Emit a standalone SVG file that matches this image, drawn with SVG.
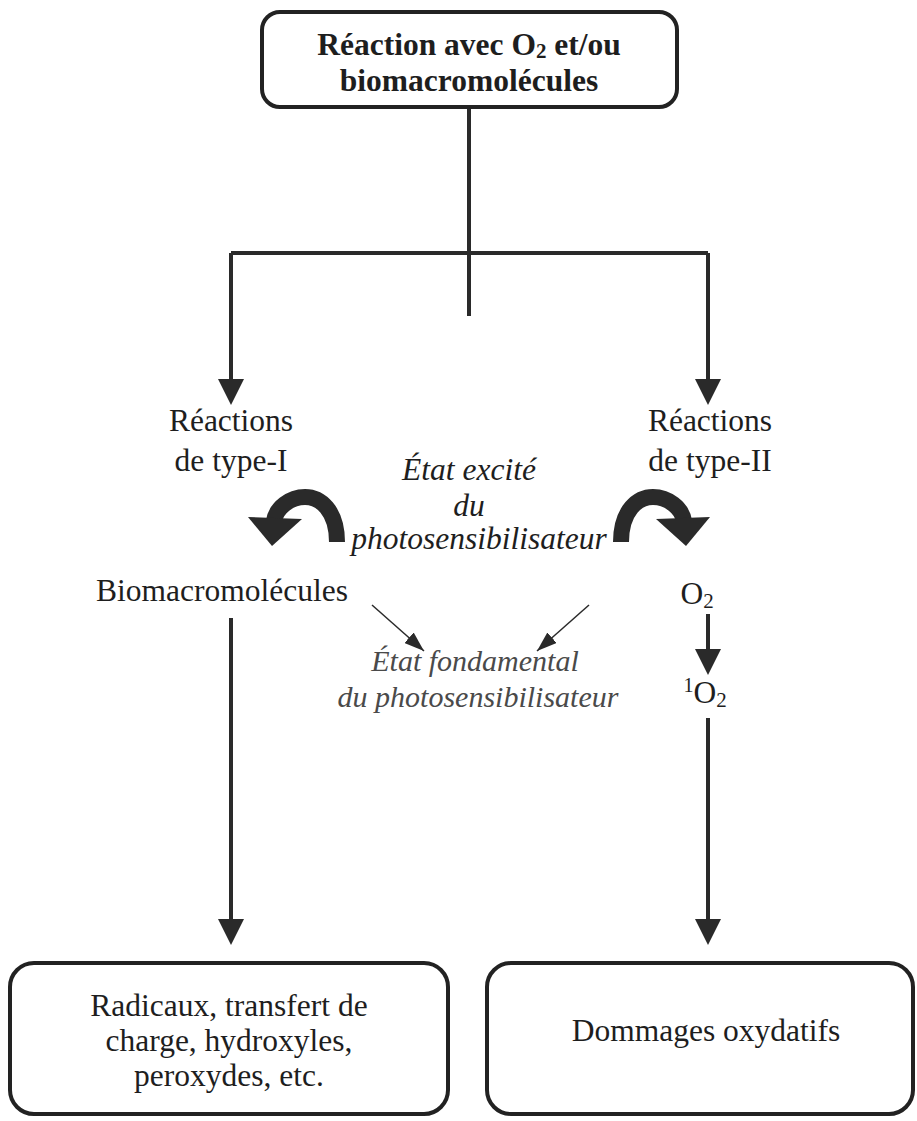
<svg xmlns="http://www.w3.org/2000/svg" width="917" height="1121" viewBox="0 0 917 1121">
<defs>
<style>
.t{font-family:"Liberation Serif","Times New Roman",serif;font-size:31.5px;fill:#1e1e1e;text-anchor:middle}
.b{font-weight:bold}
.i{font-style:italic}
.g{fill:#4a4a4a;font-size:30px}
.box{fill:#fff;stroke:#222;stroke-width:4}
.ln{fill:none;stroke:#2a2a2a;stroke-width:4}
.thin{fill:none;stroke:#2a2a2a;stroke-width:1.5}
.curve{fill:none;stroke:#2a2a2a;stroke-width:16}
.head{fill:#2a2a2a}
</style>
<marker id="ahs" viewBox="0 0 20 14" refX="20" refY="7" markerWidth="20" markerHeight="14" markerUnits="userSpaceOnUse" orient="auto">
<path d="M0 0 L20 7 L0 14 Z" fill="#2a2a2a"/>
</marker>
</defs>

<g id="connectors">
<line class="ln" x1="469" y1="109" x2="469" y2="316"/>
<path class="ln" d="M231 253 L708 253"/>
<path d="M231 253 L231 380" class="ln"/>
<path d="M218 379 L244 379 L231 405 Z" class="head"/>
<path d="M708 253 L708 380" class="ln"/>
<path d="M695 379 L721 379 L708 405 Z" class="head"/>
<path d="M231 618 L231 920" class="ln"/>
<path d="M218 919 L244 919 L231 945 Z" class="head"/>
<path d="M708 718 L708 920" class="ln"/>
<path d="M695 919 L721 919 L708 945 Z" class="head"/>
<path d="M708 614 L708 650" class="ln"/>
<path d="M695 649 L721 649 L708 675 Z" class="head"/>
<line class="thin" x1="372" y1="605" x2="424" y2="651" marker-end="url(#ahs)"/>
<line class="thin" x1="589" y1="605" x2="537" y2="651" marker-end="url(#ahs)"/>
<g id="curve-left">
<path class="curve" d="M337 542 C337 510 320 497 305 497 C290 497 276 508 274 521"/>
<path class="head" d="M248 517 L302 519 L272 546 Z"/>
</g>
<g id="curve-right">
<path class="curve" d="M621 542 C621 510 638 497 653 497 C668 497 682 508 684 521"/>
<path class="head" d="M710 517 L656 519 L686 546 Z"/>
</g>
</g>

<g id="node-top">
<rect class="box" x="262" y="12" width="415" height="95" rx="18"/>
<text class="t b" x="469" y="55">Réaction avec O<tspan font-size="21" dy="3">2</tspan><tspan dy="-3"> et/ou</tspan></text>
<text class="t b" x="469" y="91">biomacromolécules</text>
</g>

<g id="node-type1">
<text class="t" x="231" y="431">Réactions</text>
<text class="t" x="231" y="471">de type-I</text>
</g>

<g id="node-type2">
<text class="t" x="710" y="431">Réactions</text>
<text class="t" x="710" y="471">de type-II</text>
</g>

<g id="node-excite">
<text class="t i" x="469" y="480">État excité</text>
<text class="t i" x="469" y="516">du</text>
<text class="t i" x="479" y="549">photosensibilisateur</text>
</g>

<g id="node-biomacro">
<text class="t" x="222" y="601">Biomacromolécules</text>
</g>

<g id="node-o2">
<text class="t" x="697" y="604">O<tspan font-size="21" dy="4">2</tspan></text>
</g>

<g id="node-fond">
<text class="t i g" x="475" y="671">État fondamental</text>
<text class="t i g" x="478" y="707">du photosensibilisateur</text>
</g>

<g id="node-1o2">
<text class="t" x="705" y="703"><tspan font-size="20" dy="-11">1</tspan><tspan dy="11">O</tspan><tspan font-size="21" dy="4">2</tspan></text>
</g>

<g id="node-bl">
<rect class="box" x="10" y="963" width="438" height="151" rx="24"/>
<text class="t" x="229" y="1016">Radicaux, transfert de</text>
<text class="t" x="229" y="1051">charge, hydroxyles,</text>
<text class="t" x="229" y="1086">peroxydes, etc.</text>
</g>

<g id="node-br">
<rect class="box" x="487" y="963" width="426" height="151" rx="24"/>
<text class="t" x="706" y="1041">Dommages oxydatifs</text>
</g>
</svg>
